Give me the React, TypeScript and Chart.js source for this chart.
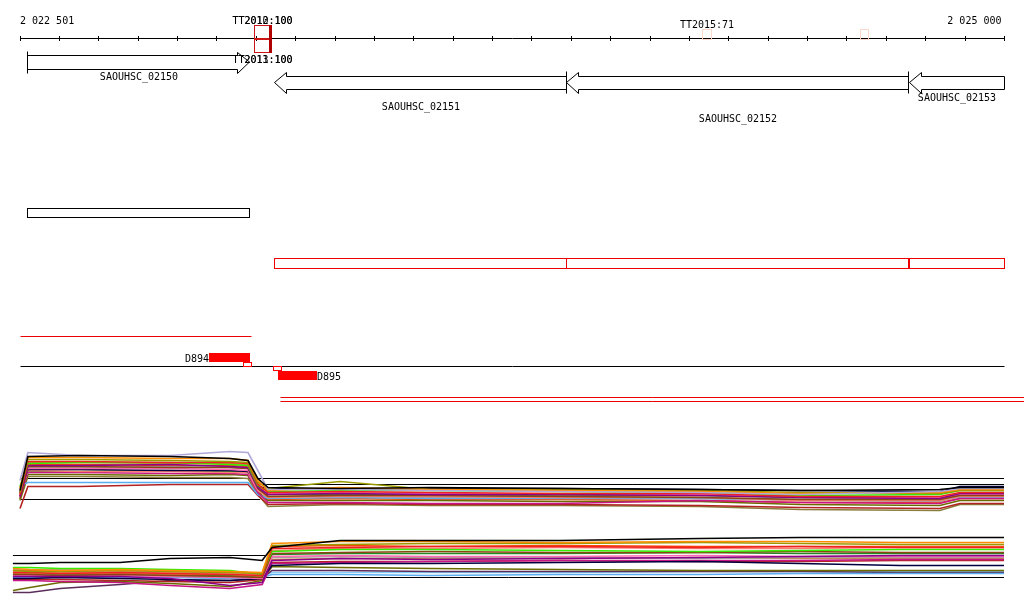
import React, { useEffect, useRef } from 'react';
import { Chart, registerables } from 'chart.js';

Chart.register(...registerables);

// ---------------- DATA ----------------
const axisStart = 2022501;
const axisEnd = 2025000;
const tickStep = 100;

const geneNames = ['SAOUHSC_02150', 'SAOUHSC_02151', 'SAOUHSC_02152', 'SAOUHSC_02153'];
const geneStarts = [2022519, 2023146, 2023888, 2024758];
const geneEnds = [2023083, 2023888, 2024756, 2025200];
const geneStrands = ['+', '-', '-', '-'];

const ttLabels = ['TT2010:100', 'TT2012:100', 'TT2011:100', 'TT2013:100', 'TT2015:71', ''];
const ttStarts = [2023095, 2023095, 2023095, 2023095, 2024233, 2024634];
const ttEnds = [2023136, 2023136, 2023136, 2023136, 2024256, 2024655];
const ttStrands = ['+', '+', '-', '-', '+', '+'];
const ttScores = [100, 100, 100, 100, 71, 71];
const ttStemStarts = [2023131];
const ttStemEnds = [2023141];

const plusTxStarts = [2022501];
const plusTxEnds = [2023087];
const minusTxStarts = [2023161, 2023161];
const minusTxEnds = [2025070, 2025070];

const probeNames = ['D894', 'D895'];
const probeStarts = [2022981, 2023156];
const probeEnds = [2023085, 2023255];
const probeStrands = ['+', '-'];
const probeSiteStarts = [2023067, 2023144];
const probeSiteEnds = [2023087, 2023163];

// panel 1 (plus-strand signal)
const panel1Positions = [2022501, 2022521, 2022653, 2022882, 2023034, 2023080, 2023105, 2023131, 2023314, 2023542, 2023872, 2024228, 2024482, 2024837, 2024888, 2025000];
const panel1Series = [
  [25, 59, 60, 59, 57, 55, 37, 28, 27, 28, 27, 26, 25, 26, 28, 28],
  [35, 63, 60, 60, 64, 63, 45, 26, 26, 25, 24, 23, 21, 24, 27, 27],
  [27, 58, 58, 57, 57, 55, 35, 25, 28, 26, 25, 24, 22, 23, 26, 26],
  [23, 56, 56, 55, 54, 53, 33, 27, 34, 26, 26, 25, 23, 22, 25, 25],
  [21, 54, 54, 53, 53, 52, 31, 23, 24, 23, 22, 22, 19, 19, 23, 23],
  [29, 52, 53, 53, 51, 50, 30, 24, 25, 25, 24, 23, 20, 21, 25, 25],
  [19, 50, 50, 51, 49, 48, 28, 21, 22, 21, 21, 20, 18, 17, 22, 22],
  [17, 49, 49, 48, 48, 47, 27, 19, 20, 20, 19, 18, 16, 16, 20, 20],
  [25, 47, 47, 47, 46, 45, 26, 22, 23, 22, 21, 21, 19, 18, 21, 21],
  [23, 46, 46, 45, 45, 44, 29, 27, 26, 27, 27, 26, 25, 24, 29, 29],
  [21, 45, 44, 44, 43, 43, 25, 18, 19, 19, 18, 18, 15, 15, 19, 19],
  [19, 43, 43, 42, 42, 41, 23, 13, 13, 12, 12, 15, 13, 12, 17, 17],
  [30, 33, 33, 33, 33, 33, 21, 17, 18, 17, 17, 17, 16, 16, 18, 18],
  [28, 48, 48, 49, 48, 47, 29, 18, 19, 18, 18, 17, 15, 14, 19, 19],
  [16, 41, 41, 40, 41, 40, 24, 15, 15, 15, 14, 14, 11, 10, 15, 15],
  [24, 53, 53, 52, 52, 51, 32, 19, 20, 19, 19, 18, 16, 17, 20, 20],
  [7, 29, 29, 31, 31, 31, 20, 11, 12, 11, 11, 10, 8, 7, 12, 12],
  [22, 44, 44, 45, 44, 43, 26, 21, 21, 21, 20, 20, 18, 18, 21, 21],
  [20, 51, 51, 50, 50, 49, 29, 16, 17, 16, 16, 15, 13, 13, 17, 17],
  [15, 39, 39, 38, 38, 37, 21, 9, 11, 10, 10, 9, 6, 5, 11, 11],
];
const panel1RefStarts = [2022501, 2023111, 2022501];
const panel1RefEnds = [2025000, 2025000, 2023111];
const panel1RefLevels = [37, 31, 16];

// panel 2 (minus-strand signal)
const panel2Positions = [2022483, 2022526, 2022603, 2022755, 2022882, 2023034, 2023116, 2023141, 2023314, 2023542, 2023872, 2024228, 2024482, 2024736, 2025000];
const panel2Series = [
  [37, 37, 38, 38, 42, 43, 40, 53, 60, 60, 60, 62, 63, 63, 63],
  [32, 31, 30, 31, 30, 29, 28, 57, 59, 59, 58, 59, 59, 58, 58],
  [30, 29, 29, 30, 29, 28, 27, 55, 56, 57, 57, 58, 57, 56, 56],
  [28, 28, 27, 28, 27, 26, 25, 52, 53, 54, 54, 53, 54, 53, 53],
  [33, 33, 32, 32, 31, 30, 26, 49, 51, 51, 50, 49, 50, 51, 51],
  [24, 24, 24, 24, 22, 15, 18, 40, 42, 41, 42, 43, 44, 45, 45],
  [26, 26, 25, 26, 25, 24, 23, 47, 48, 49, 48, 48, 49, 48, 48],
  [25, 25, 25, 25, 24, 23, 22, 44, 45, 44, 44, 45, 44, 44, 44],
  [22, 22, 23, 22, 21, 20, 22, 35, 37, 37, 38, 39, 37, 35, 35],
  [29, 29, 28, 29, 28, 27, 26, 50, 52, 52, 53, 52, 52, 53, 53],
  [20, 20, 19, 18, 15, 12, 16, 37, 38, 39, 40, 40, 40, 41, 41],
  [23, 23, 24, 23, 23, 22, 23, 26, 26, 25, 26, 26, 27, 27, 27],
  [31, 31, 31, 30, 30, 29, 27, 43, 44, 43, 43, 42, 43, 43, 43],
  [10, 13, 18, 19, 17, 14, 20, 34, 33, 32, 31, 30, 30, 30, 30],
  [27, 27, 27, 27, 26, 26, 24, 41, 42, 42, 42, 43, 42, 42, 42],
  [21, 21, 21, 20, 19, 18, 21, 38, 39, 39, 40, 39, 39, 40, 40],
  [25, 25, 26, 26, 25, 25, 24, 46, 47, 47, 47, 48, 47, 47, 47],
  [30, 30, 29, 29, 28, 28, 27, 54, 55, 54, 55, 54, 54, 54, 54],
  [8, 8, 12, 16, 20, 20, 22, 30, 30, 29, 29, 29, 29, 28, 28],
  [24, 24, 25, 25, 24, 24, 25, 28, 28, 28, 28, 29, 29, 29, 29],
];
const panel2RefStarts = [2022483, 2022483];
const panel2RefEnds = [2023123, 2025000];
const panel2RefLevels = [45, 23];

// ---------------- STYLE / LAYOUT ----------------
const W = 1024;
const H = 611;
const LAYOUT = {
  padL: 20,
  padR: 20,
  axisRow: 38,
  axisLabelRow: 24,
  ttUp: 13,
  ttDown: 14,
  ttBelowLabelGap: 11,
  plusGeneRow: 62,
  minusGeneRow: 82.5,
  geneBodyHalf: 7,
  minusGeneBodyHalf: 6.5,
  geneHeadHalf: 10.5,
  geneHeadLen: 12,
  geneLabelRows: [80, 110, 122, 101],
  plusBoxRows: [208, 217],
  minusBoxRows: [258, 268],
  plusTxRow: 336,
  baseRow: 366,
  probeH: 9,
  siteH: 4,
  minusTxRows: [397, 401],
  panel1Zero: 515,
  panel2Zero: 600,
};
const TRACE_WIDTH = 1.6;
const FONT = '10px "DejaVu Sans Mono", "Liberation Mono", monospace';
const panel1Colors = ['#000000', '#b0a8d8', '#ff8c00', '#9a9a00', '#ee2222', '#33ee00', '#8b008b', '#8b4513', '#ff69b4', '#000040', '#fa8072', '#c71585', '#5aaef0', '#a0a0a0', '#6b6b00', '#cd853f', '#b22222', '#228b22', '#ff4500', '#8b7d3a'];
const panel2Colors = ['#000000', '#ff8c00', '#9a9a00', '#ee2222', '#33ee00', '#8b008b', '#8b4513', '#ff69b4', '#000040', '#fa8072', '#c71585', '#5aaef0', '#a0a0a0', '#6b6b00', '#cd853f', '#b22222', '#228b22', '#ff4500', '#5a2d5a', '#87cefa'];

const fmt = (n: number) => String(n).replace(/\B(?=(\d{3})+(?!\d))/g, ' ');

const tracksPlugin = {
  id: 'genomeTracks',
  afterDatasetsDraw(chart: any) {
    const ctx: CanvasRenderingContext2D = chart.ctx;
    const xs = chart.scales.x;
    const ys = chart.scales.track;
    const px = (bp: number) => Math.round(xs.getPixelForValue(bp)) + 0.5;
    const py = (r: number) => Math.round(ys.getPixelForValue(r)) + 0.5;
    const line = (x0: number, y0: number, x1: number, y1: number) => {
      ctx.beginPath();
      ctx.moveTo(x0, y0);
      ctx.lineTo(x1, y1);
      ctx.stroke();
    };
    ctx.save();
    ctx.lineWidth = 1;
    ctx.font = FONT;
    ctx.textBaseline = 'alphabetic';

    // ruler
    ctx.strokeStyle = '#000';
    ctx.fillStyle = '#000';
    line(px(axisStart), py(LAYOUT.axisRow), px(axisEnd), py(LAYOUT.axisRow));
    for (let t = Math.floor(axisStart / tickStep) * tickStep; t <= axisEnd; t += tickStep) {
      line(px(t), ys.getPixelForValue(LAYOUT.axisRow - 2), px(t), ys.getPixelForValue(LAYOUT.axisRow + 3));
    }
    ctx.textAlign = 'left';
    ctx.fillText(fmt(axisStart), px(axisStart) - 0.5, ys.getPixelForValue(LAYOUT.axisLabelRow));
    ctx.textAlign = 'right';
    ctx.fillText(fmt(axisEnd), px(axisEnd) - 3, ys.getPixelForValue(LAYOUT.axisLabelRow));

    // genes
    geneNames.forEach((name, i) => {
      const truncated = geneEnds[i] > axisEnd;
      const x0 = px(Math.max(geneStarts[i], axisStart));
      const x1 = px(Math.min(geneEnds[i], axisEnd));
      const plus = geneStrands[i] === '+';
      const cy = plus ? LAYOUT.plusGeneRow : LAYOUT.minusGeneRow;
      const h = plus ? LAYOUT.geneBodyHalf : LAYOUT.minusGeneBodyHalf;
      const hh = LAYOUT.geneHeadHalf;
      const hl = LAYOUT.geneHeadLen;
      const yT = py(cy - h), yB = py(cy + h), hT = py(cy - hh), hB = py(cy + hh);
      const yc = ys.getPixelForValue(cy);
      ctx.strokeStyle = '#000';
      ctx.fillStyle = '#fff';
      ctx.beginPath();
      if (plus) {
        ctx.moveTo(x0, yT);
        ctx.lineTo(x1 - hl, yT);
        ctx.lineTo(x1 - hl, hT);
        ctx.lineTo(x1, yc);
        ctx.lineTo(x1 - hl, hB);
        ctx.lineTo(x1 - hl, yB);
        ctx.lineTo(x0, yB);
      } else {
        ctx.moveTo(x1, yT);
        ctx.lineTo(x0 + hl, yT);
        ctx.lineTo(x0 + hl, hT);
        ctx.lineTo(x0, yc);
        ctx.lineTo(x0 + hl, hB);
        ctx.lineTo(x0 + hl, yB);
        ctx.lineTo(x1, yB);
      }
      ctx.closePath();
      ctx.fill();
      ctx.stroke();
      if (!truncated) {
        const bx = plus ? x0 : x1;
        line(bx, hT - 1, bx, hB);
      }
      ctx.fillStyle = '#000';
      ctx.textAlign = 'center';
      ctx.fillText(name, Math.round((x0 + x1) / 2), ys.getPixelForValue(LAYOUT.geneLabelRows[i]));

      const rows = plus ? LAYOUT.plusBoxRows : LAYOUT.minusBoxRows;
      ctx.strokeStyle = plus ? '#000' : '#ee0000';
      ctx.strokeRect(x0, py(rows[0]), x1 - x0, py(rows[1]) - py(rows[0]));
    });

    // terminators (drawn over the gene arrows)
    ttStarts.forEach((s, i) => {
      const x0 = px(s);
      const x1 = px(ttEnds[i]);
      const sc = ttScores[i];
      const plus = ttStrands[i] === '+';
      const top = plus ? LAYOUT.axisRow - (LAYOUT.ttUp * sc) / 100 : LAYOUT.axisRow;
      const bot = plus ? LAYOUT.axisRow + 1 : LAYOUT.axisRow + (LAYOUT.ttDown * sc) / 100;
      ctx.strokeStyle = sc >= 90 ? '#cc1515' : '#ffd8cc';
      ctx.strokeRect(x0, py(top), x1 - x0, py(bot) - py(top));
      if (ttLabels[i]) {
        ctx.fillStyle = '#000';
        ctx.textAlign = 'center';
        const by = plus ? ys.getPixelForValue(top - 1) : ys.getPixelForValue(bot + LAYOUT.ttBelowLabelGap);
        ctx.fillText(ttLabels[i], (x0 + x1) / 2, Math.round(by));
      }
    });
    ttStemStarts.forEach((s, i) => {
      ctx.fillStyle = '#b00000';
      const x1 = Math.round(xs.getPixelForValue(ttStemEnds[i]));
      const y0 = ys.getPixelForValue(LAYOUT.axisRow - LAYOUT.ttUp);
      const y1 = ys.getPixelForValue(LAYOUT.axisRow + LAYOUT.ttDown + 1);
      ctx.fillRect(x1 - 3, y0, 3, y1 - y0);
    });

    // transcripts
    ctx.strokeStyle = '#ee0000';
    plusTxStarts.forEach((s, i) => line(px(s), py(LAYOUT.plusTxRow), px(plusTxEnds[i]), py(LAYOUT.plusTxRow)));
    minusTxStarts.forEach((s, i) =>
      line(px(s), py(LAYOUT.minusTxRows[i]), Math.min(px(minusTxEnds[i]), W), py(LAYOUT.minusTxRows[i]))
    );

    // baseline
    ctx.strokeStyle = '#000';
    line(px(axisStart), py(LAYOUT.baseRow), px(axisEnd), py(LAYOUT.baseRow));

    // probes
    probeNames.forEach((name, i) => {
      const plus = probeStrands[i] === '+';
      const x0 = Math.round(xs.getPixelForValue(probeStarts[i]));
      const x1 = Math.round(xs.getPixelForValue(probeEnds[i]));
      const base = ys.getPixelForValue(LAYOUT.baseRow);
      const sy0 = plus ? base - LAYOUT.probeH - LAYOUT.siteH : base + LAYOUT.siteH + 1;
      ctx.fillStyle = '#ff0000';
      ctx.fillRect(x0, sy0, x1 - x0, LAYOUT.probeH);
      const s0 = px(probeSiteStarts[i]);
      const s1 = px(probeSiteEnds[i]);
      ctx.strokeStyle = '#ff0000';
      const siteTop = plus ? base - LAYOUT.siteH + 0.5 : base + 0.5;
      ctx.strokeRect(s0, siteTop, s1 - s0, LAYOUT.siteH);
      ctx.fillStyle = '#000';
      if (plus) {
        ctx.textAlign = 'right';
        ctx.fillText(name, x0, sy0 + LAYOUT.probeH - 0.5);
      } else {
        ctx.textAlign = 'left';
        ctx.fillText(name, x1, sy0 + LAYOUT.probeH - 0.5);
      }
    });

    ctx.restore();
  },
};

export default function App() {
  const ref = useRef<HTMLCanvasElement>(null);
  useEffect(() => {
    document.body.style.margin = '0';
    const canvas = ref.current;
    if (!canvas) return;
    const pxPerBp = (W - LAYOUT.padL - LAYOUT.padR) / (axisEnd - axisStart);
    const xMin = axisStart - LAYOUT.padL / pxPerBp;
    const xMax = xMin + W / pxPerBp;

    const datasets: any[] = [];
    panel1Series.forEach((vals, i) => {
      datasets.push({
        data: panel1Positions.map((x, j) => ({ x, y: vals[j] })),
        borderColor: panel1Colors[i % panel1Colors.length],
        borderWidth: TRACE_WIDTH,
        pointRadius: 0,
        tension: 0,
        fill: false,
        yAxisID: 'p1',
      });
    });
    panel1RefLevels.forEach((lv, i) => {
      datasets.push({
        data: [{ x: panel1RefStarts[i], y: lv }, { x: panel1RefEnds[i], y: lv }],
        borderColor: '#000',
        borderWidth: 1,
        pointRadius: 0,
        yAxisID: 'p1',
      });
    });
    panel2Series.forEach((vals, i) => {
      datasets.push({
        data: panel2Positions.map((x, j) => ({ x, y: vals[j] })),
        borderColor: panel2Colors[i % panel2Colors.length],
        borderWidth: TRACE_WIDTH,
        pointRadius: 0,
        tension: 0,
        fill: false,
        yAxisID: 'p2',
      });
    });
    panel2RefLevels.forEach((lv, i) => {
      datasets.push({
        data: [{ x: panel2RefStarts[i], y: lv }, { x: panel2RefEnds[i], y: lv }],
        borderColor: '#000',
        borderWidth: 1,
        pointRadius: 0,
        yAxisID: 'p2',
      });
    });

    const chart = new Chart(canvas, {
      type: 'line',
      data: { datasets },
      options: {
        animation: false,
        responsive: false,
        maintainAspectRatio: false,
        devicePixelRatio: 1,
        layout: { padding: 0 },
        events: [],
        plugins: { legend: { display: false }, tooltip: { enabled: false } },
        scales: {
          x: { type: 'linear', axis: 'x', position: 'bottom', min: xMin, max: xMax, display: false },
          track: { type: 'linear', axis: 'y', position: 'left', min: 0, max: H, reverse: true, display: false },
          p1: { type: 'linear', axis: 'y', position: 'left', min: LAYOUT.panel1Zero + 0.5 - H, max: LAYOUT.panel1Zero + 0.5, display: false },
          p2: { type: 'linear', axis: 'y', position: 'left', min: LAYOUT.panel2Zero + 0.5 - H, max: LAYOUT.panel2Zero + 0.5, display: false },
        },
      } as any,
      plugins: [tracksPlugin],
    });
    return () => chart.destroy();
  }, []);

  return (
    <div style={{ width: W, height: H, position: 'relative', background: '#fff' }}>
      <canvas ref={ref} width={W} height={H} style={{ display: 'block' }} />
    </div>
  );
}
